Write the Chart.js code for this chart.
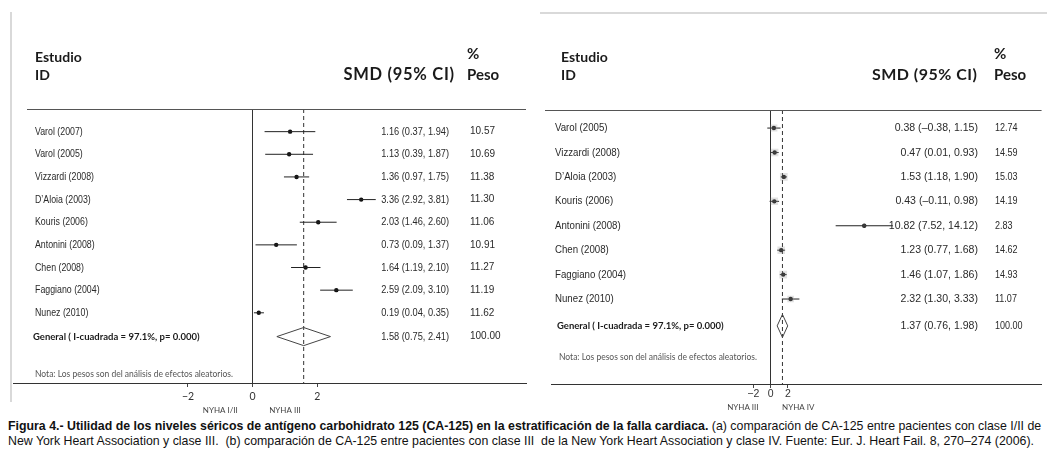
<!DOCTYPE html>
<html>
<head>
<meta charset="utf-8">
<script src="https://cdn.jsdelivr.net/npm/chart.js@4/dist/chart.umd.min.js"></script>
<style>
  body { margin: 0; background: #fff; width: 1047px; height: 450px; overflow: hidden; position: relative; }
  canvas { position: absolute; top: 0; }
  #plotA { left: 0; }
  #plotB { left: 527px; }
  .rule { position: absolute; background: #d9d9d9; }
  #cap { position: absolute; left: 8px; top: 419px; font-family: "Liberation Sans", Arial, sans-serif; font-size: 12.35px; line-height: 15px; color: #111; white-space: nowrap; }
</style>
</head>
<body>
<div class="rule" style="left:10px;top:12px;width:2px;height:390px"></div>
<div class="rule" style="left:540px;top:12px;width:507px;height:2px"></div>
<canvas id="plotA" width="530" height="417"></canvas>
<canvas id="plotB" width="520" height="417"></canvas>
<div id="cap"><b>Figura 4.- Utilidad de los niveles séricos de antígeno carbohidrato 125 (CA-125) en la estratificación de la falla cardiaca.</b> (a) comparación de CA-125 entre pacientes con clase I/II de<br>New York Heart Association y clase III.&nbsp; (b) comparación de CA-125 entre pacientes con clase III&nbsp; de la New York Heart Association y clase IV. Fuente: Eur. J. Heart Fail. 8, 270–274 (2006).</div>
<script>
// (a) NYHA I/II vs NYHA III
const studiesA = ["Varol (2007)", "Varol (2005)", "Vizzardi (2008)", "D’Aloia (2003)", "Kouris (2006)", "Antonini (2008)", "Chen (2008)", "Faggiano (2004)", "Nunez (2010)"];
const smdA = [1.16, 1.13, 1.36, 3.36, 2.03, 0.73, 1.64, 2.59, 0.19];
const lowA = [0.37, 0.39, 0.97, 2.92, 1.46, 0.09, 1.19, 2.09, 0.04];
const highA = [1.94, 1.87, 1.75, 3.81, 2.60, 1.37, 2.10, 3.10, 0.35];
const weightA = [10.57, 10.69, 11.38, 11.30, 11.06, 10.91, 11.27, 11.19, 11.62];
const overallA = [1.58, 0.75, 2.41];
const groupsA = ["NYHA I/II", "NYHA III"];

// (b) NYHA III vs NYHA IV
const studiesB = ["Varol (2005)", "Vizzardi (2008)", "D’Aloia (2003)", "Kouris (2006)", "Antonini (2008)", "Chen (2008)", "Faggiano (2004)", "Nunez (2010)"];
const smdB = [0.38, 0.47, 1.53, 0.43, 10.82, 1.23, 1.46, 2.32];
const lowB = [-0.38, 0.01, 1.18, -0.11, 7.52, 0.77, 1.07, 1.30];
const highB = [1.15, 0.93, 1.90, 0.98, 14.12, 1.68, 1.86, 3.33];
const weightB = [12.74, 14.59, 15.03, 14.19, 2.83, 14.62, 14.93, 11.07];
const overallB = [1.37, 0.76, 1.98];
const groupsB = ["NYHA III", "NYHA IV"];

const xTicks = [-2, 0, 2];
const overallLabel = "General ( I-cuadrada = 97.1%, p= 0.000)";
const noteLabel = "Nota: Los pesos son del análisis de efectos aleatorios.";

const SANS = '"Liberation Sans", Arial, sans-serif';

function fmt(v) {
    return (v < 0 ? "\u2013" : "") + Math.abs(v).toFixed(2);
}

// condensed text (the original uses a narrow face)
function narrowText(ctx, text, x, y, align, sx) {
    ctx.save();
    ctx.translate(x, y);
    ctx.scale(sx, 1);
    ctx.textAlign = align;
    ctx.fillText(text, 0, 0);
    ctx.restore();
}

// draws the text columns of the forest plot
const forestText = {
    id: "forestText",
    afterDraw(chart, args, o) {
        const ctx = chart.ctx;
        const xs = chart.scales.x, ys = chart.scales.y;
        const area = chart.chartArea;
        ctx.save();

        // header rule
        ctx.strokeStyle = "#555";
        ctx.lineWidth = 1;
        ctx.beginPath();
        ctx.moveTo(o.ruleX, area.top + 0.5);
        ctx.lineTo(area.right, area.top + 0.5);
        ctx.stroke();

        // headers
        ctx.fillStyle = "#1a1a1a";
        ctx.textBaseline = "middle";
        ctx.font = "bold 14px Lato";
        ctx.textAlign = "left";
        ctx.fillText("Estudio", o.nameX, 57);
        ctx.fillText("ID", o.nameX, 75);
        ctx.font = "bold 15px Lato";
        ctx.fillText("%", o.pesoX, 54);
        ctx.fillText("Peso", o.pesoX, 75);
        ctx.font = "bold " + o.headSize + "px Lato";
        ctx.letterSpacing = o.headSpacing + "px";
        ctx.textAlign = "right";
        ctx.fillText("SMD (95% CI)", o.headRight + o.headSpacing, 75);
        ctx.letterSpacing = "0px";

        // study rows
        ctx.fillStyle = "#2a2a2a";
        o.names.forEach((name, i) => {
            const py = ys.getPixelForValue(i + 1);
            ctx.font = "11px " + SANS;
            narrowText(ctx, name, o.rowX, py, "left", o.rowSx);
            narrowText(ctx, fmt(o.smd[i]) + " (" + fmt(o.low[i]) + ", " + fmt(o.high[i]) + ")", o.smdRight, py, "right", o.numSx);
            ctx.font = o.wSize + "px " + SANS;
            narrowText(ctx, o.weight[i].toFixed(2), o.wX, py, "left", o.wSx);
        });

        // overall row
        const gy = ys.getPixelForValue(o.overallRow);
        ctx.fillStyle = "#1a1a1a";
        ctx.font = "bold 9.5px Lato";
        ctx.textAlign = "left";
        ctx.fillText(overallLabel, o.generalX, gy);
        ctx.fillStyle = "#2a2a2a";
        ctx.font = "11px " + SANS;
        narrowText(ctx, fmt(o.overall[0]) + " (" + fmt(o.overall[1]) + ", " + fmt(o.overall[2]) + ")", o.smdRight, gy, "right", o.numSx);
        ctx.font = o.wSize + "px " + SANS;
        narrowText(ctx, (100).toFixed(2), o.wX, gy, "left", o.wSx);

        // note
        ctx.fillStyle = "#555";
        ctx.font = "8.5px Lato";
        ctx.textAlign = "left";
        ctx.fillText(noteLabel, o.generalX + 2, ys.getPixelForValue(o.noteRow));

        // group labels under the axis
        ctx.fillStyle = "#444";
        ctx.font = "8px Lato";
        ctx.textAlign = "center";
        ctx.fillText(o.groups[0], xs.getPixelForValue(-o.groupAt), o.groupY);
        ctx.fillText(o.groups[1], xs.getPixelForValue(o.groupAt), o.groupY);
        ctx.restore();
    }
};

function makeForest(id, names, smd, low, high, weight, overall, groups, cfg) {
    const rows = names.map((n, i) => i + 1);
    const ciData = [];
    rows.forEach((r, i) => {
        ciData.push({ x: low[i], y: r }, { x: high[i], y: r }, { x: null, y: null });
    });
    const g = cfg.overallRow, h = cfg.diamondHalf;
    const datasets = [];
    if (cfg.boxes) {
        datasets.push({
            data: rows.map((r, i) => ({ x: smd[i], y: r })),
            pointStyle: "rect",
            pointRadius: weight.map(v => Math.sqrt(v) * 1.4),
            backgroundColor: "rgba(150,150,150,0.28)",
            borderWidth: 0
        });
    }
    datasets.push({
        data: ciData,
        showLine: true,
        spanGaps: false,
        borderColor: "#222",
        borderWidth: 1,
        pointRadius: 0
    });
    datasets.push({
        data: rows.map((r, i) => ({ x: smd[i], y: r })),
        pointStyle: "circle",
        pointRadius: 2.2,
        backgroundColor: "#111",
        borderWidth: 0
    });
    datasets.push({
        data: [
            { x: overall[1], y: g }, { x: overall[0], y: g - h },
            { x: overall[2], y: g }, { x: overall[0], y: g + h }, { x: overall[1], y: g }
        ],
        showLine: true,
        borderColor: "#444",
        borderWidth: 1,
        pointRadius: 0
    });
    datasets.push({
        data: [{ x: overall[0], y: cfg.yMin }, { x: overall[0], y: cfg.yMax }],
        showLine: true,
        borderColor: "#333",
        borderWidth: 1,
        borderDash: [4, 3],
        pointRadius: 0
    });

    const textOpts = Object.assign({
        names: names, smd: smd, low: low, high: high, weight: weight, overall: overall, groups: groups
    }, cfg.text);

    return new Chart(document.getElementById(id), {
        type: "scatter",
        data: { datasets: datasets },
        options: {
            responsive: false,
            animation: false,
            events: [],
            layout: { padding: { left: cfg.padLeft, right: cfg.padRight, top: cfg.padTop, bottom: 0 } },
            plugins: {
                legend: { display: false },
                tooltip: { enabled: false },
                forestText: textOpts
            },
            scales: {
                x: {
                    type: "linear",
                    min: cfg.xMin,
                    max: cfg.xMax,
                    afterBuildTicks: s => { s.ticks = xTicks.map(v => ({ value: v })); },
                    afterFit: s => { s.height = cfg.axisHeight; },
                    grid: {
                        color: c => (c.tick && c.tick.value === 0) ? "#333" : "rgba(0,0,0,0)",
                        tickColor: "#444",
                        tickLength: 4
                    },
                    border: { color: "#333" },
                    ticks: {
                        autoSkip: false,
                        maxRotation: 0,
                        padding: cfg.tickPad,
                        color: "#333",
                        font: { family: cfg.tickFamily, size: 10.5 },
                        callback: v => v < 0 ? "\u2212" + Math.abs(v) : String(v)
                    }
                },
                y: { type: "linear", reverse: true, min: cfg.yMin, max: cfg.yMax, display: false }
            }
        },
        plugins: [forestText]
    });
}

makeForest("plotA", studiesA, smdA, lowA, highA, weightA, overallA, groupsA, {
    boxes: false,
    xMin: -7.415, xMax: 8.46, yMin: 0, yMax: 12.1,
    padLeft: 13, padRight: 2, padTop: 109, axisHeight: 34, tickPad: 3,
    tickFamily: "Lato",
    overallRow: 10.05, noteRow: 11.7, diamondHalf: 0.4,
    text: {
        nameX: 35, rowX: 35, generalX: 33, ruleX: 27,
        headSize: 16.5, headSpacing: 0.7, headRight: 454, pesoX: 467,
        rowSx: 0.8, numSx: 0.84, smdRight: 449,
        wSize: 10, wSx: 1, wX: 470,
        overallRow: 10.05, noteRow: 11.7, groupAt: 1, groupY: 410
    }
});

makeForest("plotB", studiesB, smdB, lowB, highB, weightB, overallB, groupsB, {
    boxes: true,
    xMin: -25.37, xMax: 31.31, yMin: 0.26, yMax: 11.48,
    padLeft: 24, padRight: 0, padTop: 110, axisHeight: 33, tickPad: 0,
    tickFamily: "Liberation Sans",
    overallRow: 9.1, noteRow: 10.4, diamondHalf: 0.47,
    text: {
        nameX: 34, rowX: 28, generalX: 30, ruleX: 18,
        headSize: 16, headSpacing: 0.5, headRight: 450, pesoX: 467,
        rowSx: 0.88, numSx: 0.96, smdRight: 451,
        wSize: 11, wSx: 0.82, wX: 468,
        overallRow: 9.1, noteRow: 10.4, groupAt: 3.2, groupY: 407
    }
});
</script>
</body>
</html>
